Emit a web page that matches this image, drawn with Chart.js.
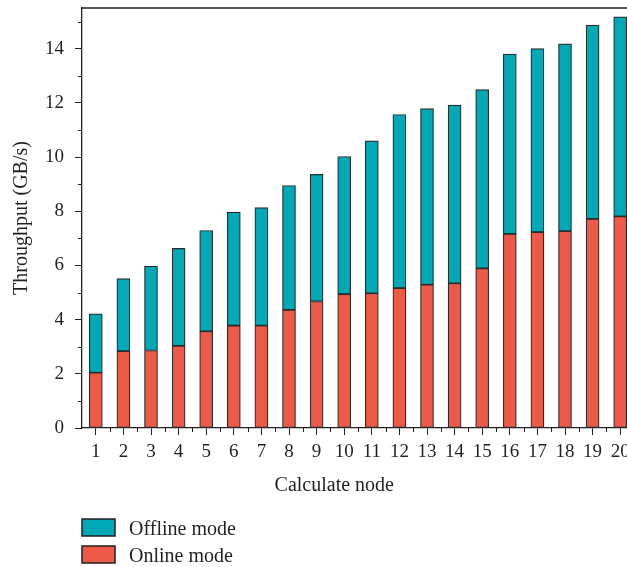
<!DOCTYPE html>
<html><head><meta charset="utf-8">
<script src="https://cdn.jsdelivr.net/npm/chart.js@4.4.0/dist/chart.umd.min.js"></script>
<style>html,body{margin:0;padding:0;overflow:hidden;background:#fff;width:627px;height:567px}canvas{display:block}</style>
</head><body><canvas id="c" width="640" height="567"></canvas>
<script>
const categories = ['1','2','3','4','5','6','7','8','9','10','11','12','13','14','15','16','17','18','19','20'];
const onlineMode  = [2.04,2.84,2.86,3.03,3.57,3.78,3.78,4.36,4.67,4.94,4.97,5.16,5.29,5.34,5.89,7.16,7.23,7.27,7.72,7.81];
const offlineMode = [2.17,2.67,3.11,3.60,3.72,4.19,4.35,4.59,4.69,5.08,5.63,6.41,6.50,6.58,6.60,6.64,6.77,6.91,7.15,7.36];
const yTickLabels = [0,2,4,6,8,10,12,14];
const seriesNames = ['Online mode','Offline mode'];
const legendOrder = [1,0];

const FONT = "'Liberation Serif', 'Times New Roman', serif";
const INK = '#231f20';
const RED = '#ee5a48';
const TEAL = '#00a9b5';

const decor = {
  id: 'decor',
  afterDraw(chart) {
    const { ctx, chartArea: a, scales: { x, y } } = chart;
    ctx.save();
    ctx.strokeStyle = INK;
    // top frame line
    ctx.lineWidth = 1.3;
    ctx.beginPath(); ctx.moveTo(a.left, a.top); ctx.lineTo(a.right + 2, a.top); ctx.stroke();
    // minor y ticks
    ctx.lineWidth = 1;
    for (let v = 1; v <= y.max; v += 2) {
      const py = Math.round(y.getPixelForValue(v)) + 0.5;
      ctx.beginPath(); ctx.moveTo(a.left - 4, py); ctx.lineTo(a.left, py); ctx.stroke();
    }
    // minor x ticks at category boundaries
    for (let i = 1; i <= categories.length; i++) {
      const px = Math.round(x.getPixelForValue(i - 0.5)) + 0.5;
      ctx.beginPath(); ctx.moveTo(px, a.bottom); ctx.lineTo(px, a.bottom + 4); ctx.stroke();
    }
    // x axis title
    ctx.fillStyle = INK;
    ctx.font = "20px " + FONT;
    ctx.textAlign = 'center';
    ctx.textBaseline = 'alphabetic';
    ctx.fillText('Calculate node', a.left + (a.right - a.left) * 0.457, a.bottom + 63);
    // legend
    ctx.textAlign = 'left';
    legendOrder.forEach((di, k) => {
      const ds = chart.data.datasets[di];
      const by = a.bottom + 91 + k * 27;
      ctx.fillStyle = ds.backgroundColor;
      ctx.fillRect(82, by, 33, 17);
      ctx.strokeStyle = INK; ctx.lineWidth = 1.5;
      ctx.strokeRect(82, by, 33, 17);
      ctx.fillStyle = INK;
      ctx.fillText(ds.label, 129, by + 16);
    });
    ctx.restore();
  }
};

new Chart(document.getElementById('c'), {
  type: 'bar',
  data: {
    labels: categories,
    datasets: [
      { label: seriesNames[0], data: onlineMode, backgroundColor: RED, borderColor: '#2b2b2b', borderWidth: 1.2, borderSkipped: false, barThickness: 13 },
      { label: seriesNames[1], data: offlineMode, backgroundColor: TEAL, borderColor: '#2b2b2b', borderWidth: 1.2, borderSkipped: false, barThickness: 13 }
    ]
  },
  options: {
    responsive: false,
    animation: false,
    layout: { padding: { left: 0, top: 8, right: 6, bottom: 0 } },
    plugins: { legend: { display: false }, tooltip: { enabled: false } },
    scales: {
      x: {
        stacked: true,
        afterFit(s) { s.height = 139; s.paddingLeft = 0; s.paddingRight = 0; },
        border: { color: INK, width: 1.3 },
        grid: { drawOnChartArea: false, offset: false, tickLength: 7, tickColor: INK, tickWidth: 1 },
        ticks: { padding: 6, color: INK, font: { family: FONT, size: 19 }, autoSkip: false, maxRotation: 0 }
      },
      y: {
        stacked: true,
        min: 0, max: 15.5,
        afterFit(s) { s.width = 82; s.paddingTop = 0; s.paddingBottom = 0; },
        border: { color: INK, width: 1.3 },
        grid: { drawOnChartArea: false, tickLength: 7, tickWidth: 1,
          tickColor: c => (c.tick && yTickLabels.includes(c.tick.value)) ? INK : 'rgba(0,0,0,0)' },
        ticks: { stepSize: 1, padding: 11, color: INK, autoSkip: false, font: { family: FONT, size: 19 },
          callback: v => yTickLabels.includes(v) ? String(v) : '' },
        title: { display: true, text: 'Throughput (GB/s)', color: INK, font: { family: FONT, size: 20 }, padding: { top: 10, bottom: 0 } }
      }
    }
  },
  plugins: [decor]
});
</script></body></html>
